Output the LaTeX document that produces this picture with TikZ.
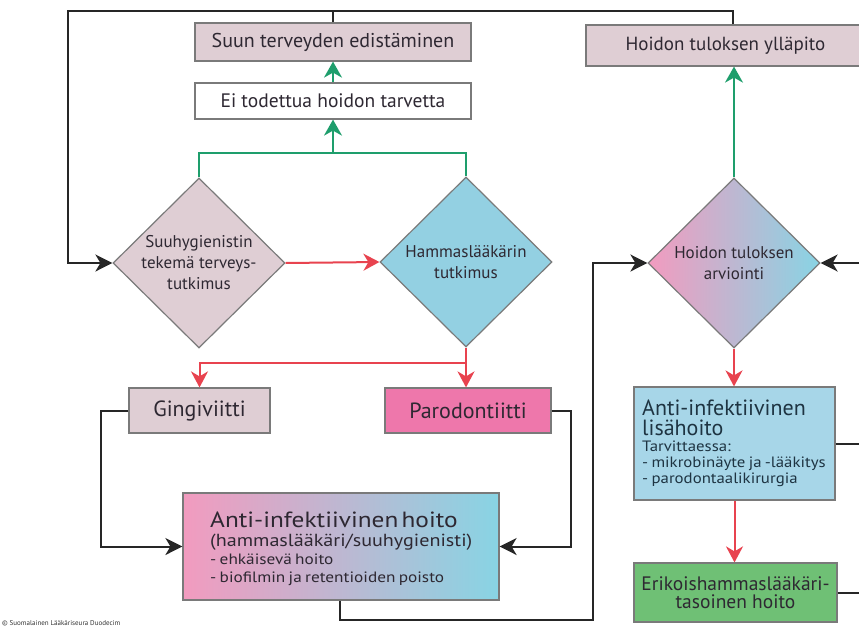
\documentclass[tikz,border=0pt]{standalone}
\usepackage{fontspec}
\setmainfont{PT Sans}
\newfontfamily\wideA{PT Sans}[FakeStretch=1.15]
\newfontfamily\wideB{PT Sans}[FakeStretch=1.12]
\usetikzlibrary{shapes.geometric,arrows.meta}
\definecolor{mauve}{HTML}{DFCED4}
\definecolor{dblue}{HTML}{93D0E2}
\definecolor{lblue}{HTML}{A7D6E8}
\definecolor{hpink}{HTML}{EE77AB}
\definecolor{gpink}{HTML}{F29BBF}
\definecolor{gcyan}{HTML}{88D4E4}
\definecolor{egreen}{HTML}{6FC075}
\definecolor{bgray}{HTML}{7A7A7A}
\definecolor{lgreen}{HTML}{1E9E6C}
\definecolor{lred}{HTML}{E8434F}
\definecolor{txt}{HTML}{2E2832}
\definecolor{btxt}{HTML}{1E3442}
\tikzset{
  box/.style={draw=bgray, line width=1.2pt, inner sep=0pt, text=txt},
  dia/.style={diamond, draw=bgray, line width=1.2pt, inner sep=0pt, minimum width=172, minimum height=170},
  dtext/.style={align=center, text=txt, font=\fontsize{17}{21}\selectfont},
  kline/.style={draw=black!85, line width=2pt},
  karrow/.style={kline, -{Stealth[length=17pt,width=17pt,inset=5pt]}},
  gline/.style={draw=lgreen, line width=2pt},
  garrow/.style={gline, -{Stealth[length=16pt,width=18pt,inset=5pt]}},
  rline/.style={draw=lred, line width=2pt},
  rarrow/.style={rline, -{Stealth[length=16pt,width=17pt,inset=5pt]}},
}
\begin{document}
\begin{tikzpicture}[x=1pt,y=-1pt]
\clip (0,0) rectangle (859,629);
\fill[white] (0,0) rectangle (859,629);

% boxes
\node[box, fill=mauve, minimum width=276, minimum height=38, font=\fontsize{20}{22}\selectfont] (suun) at (333,42) {Suun terveyden edistäminen};
\node[box, fill=white, minimum width=276, minimum height=36, font=\fontsize{19.5}{22}\selectfont] (ei) at (333,101) {Ei todettua hoidon tarvetta};
\node[box, fill=mauve, minimum width=279, minimum height=41, font=\fontsize{19}{22}\selectfont] (hoid) at (725.5,45.5) {Hoidon tuloksen ylläpito};

% diamonds
\node[dia, fill=mauve] (d1) at (199,263) {};
\node[dtext] (d1t) at (d1) {Suuhygienistin\\tekemä terveys-\\tutkimus};
\node[dia, fill=dblue] (d2) at (466,262) {};
\node[dtext] (d2t) at (d2) {Hammaslääkärin\\tutkimus};
\node[dia, left color=gpink, right color=gcyan] (d3) at (734,263) {};
\node[dtext] (d3t) at (d3) {Hoidon tuloksen\\arviointi};

% diagnosis boxes
\node[box, fill=mauve, minimum width=141, minimum height=45, font=\fontsize{22}{24}\selectfont] (ging) at (199.5,410.5) {Gingiviitti};
\node[box, fill=hpink, minimum width=166, minimum height=45, font=\fontsize{22}{24}\selectfont] (paro) at (468,410.5) {Parodontiitti};

% treatment boxes
\node[box, left color=gpink, right color=gcyan, minimum width=316, minimum height=107] (anti) at (341,546.5) {};
\node[anchor=west, inner sep=0pt, text width=300, align=left, text=txt] (antit) at (210,549) {%
{\wideA\fontsize{22}{22}\selectfont Anti-infektiivinen hoito\par}%
{\wideA\fontsize{17.5}{19}\selectfont (hammaslääkäri/suuhygienisti)\par}%
{\wideA\fontsize{15}{18}\selectfont - ehkäisevä hoito\par - biofilmin ja retentioiden poisto\par}};

\node[box, fill=lblue, minimum width=201, minimum height=113] (lisa) at (734.5,443.5) {};
\node[anchor=west, inner sep=0pt, text width=240, align=left, text=btxt] (lisat) at (642,443) {%
{\fontsize{22}{20}\selectfont Anti-infektiivinen\par lisähoito\par}%
{\wideB\fontsize{15}{16}\selectfont Tarvittaessa:\par - mikrobinäyte ja -lääkitys\par - parodontaalikirurgia\par}};

\node[box, fill=egreen, minimum width=203, minimum height=59, align=center, font=\fontsize{19.5}{18}\selectfont] (erik) at (735.5,592.5) {Erikoishammaslääkäri-\\tasoinen hoito};

\node[anchor=west, inner sep=0pt, text=black!80, font=\fontsize{7}{7}\selectfont] (copy) at (2,623) {© Suomalainen Lääkäriseura Duodecim};

% coordinates
\coordinate (gj) at (333,153);
\coordinate (rj) at (466,363);
\coordinate (tl) at (68,11);
\coordinate (tr) at (733,11);
\coordinate (cb) at (593,620);
\coordinate (re) at (875,590);

% green connectors
\draw[gline] (d1.north) |- (gj) -| (d2.north);
\draw[garrow] (gj) -- (ei.south);
\draw[garrow] (ei.north) -- (suun.south);
\draw[garrow] (d3.north) -- (d3.north |- hoid.south);

% red connectors
\draw[rarrow] (d1.east) -- (d2.west);
\draw[rline] (d2.south) -- (rj);
\draw[rarrow] (rj) -| (ging.north);
\draw[rarrow] (rj) -- (rj |- paro.north);
\draw[rarrow] (d3.south) -- (d3.south |- lisa.north);
\draw[rarrow] (lisa.south) -- (lisa.south |- erik.north);

% black connectors
\draw[karrow] (tr |- hoid.north) -- (tr) -- (tl) |- (d1.west);
\draw[kline] (suun.north) -- (suun.north |- tl);
\draw[karrow] (ging.west) -- ++(-27,0) |- (anti.west);
\draw[karrow] (paro.east) -- ++(19,0) |- (anti.east);
\draw[karrow] (anti.south -| 340,0) |- (cb) |- (d3.west);
\draw[kline] (lisa.east) -- (lisa.east -| re);
\draw[karrow] (erik.east) -- (erik.east -| re) |- (d3.east);
\end{tikzpicture}
\end{document}
